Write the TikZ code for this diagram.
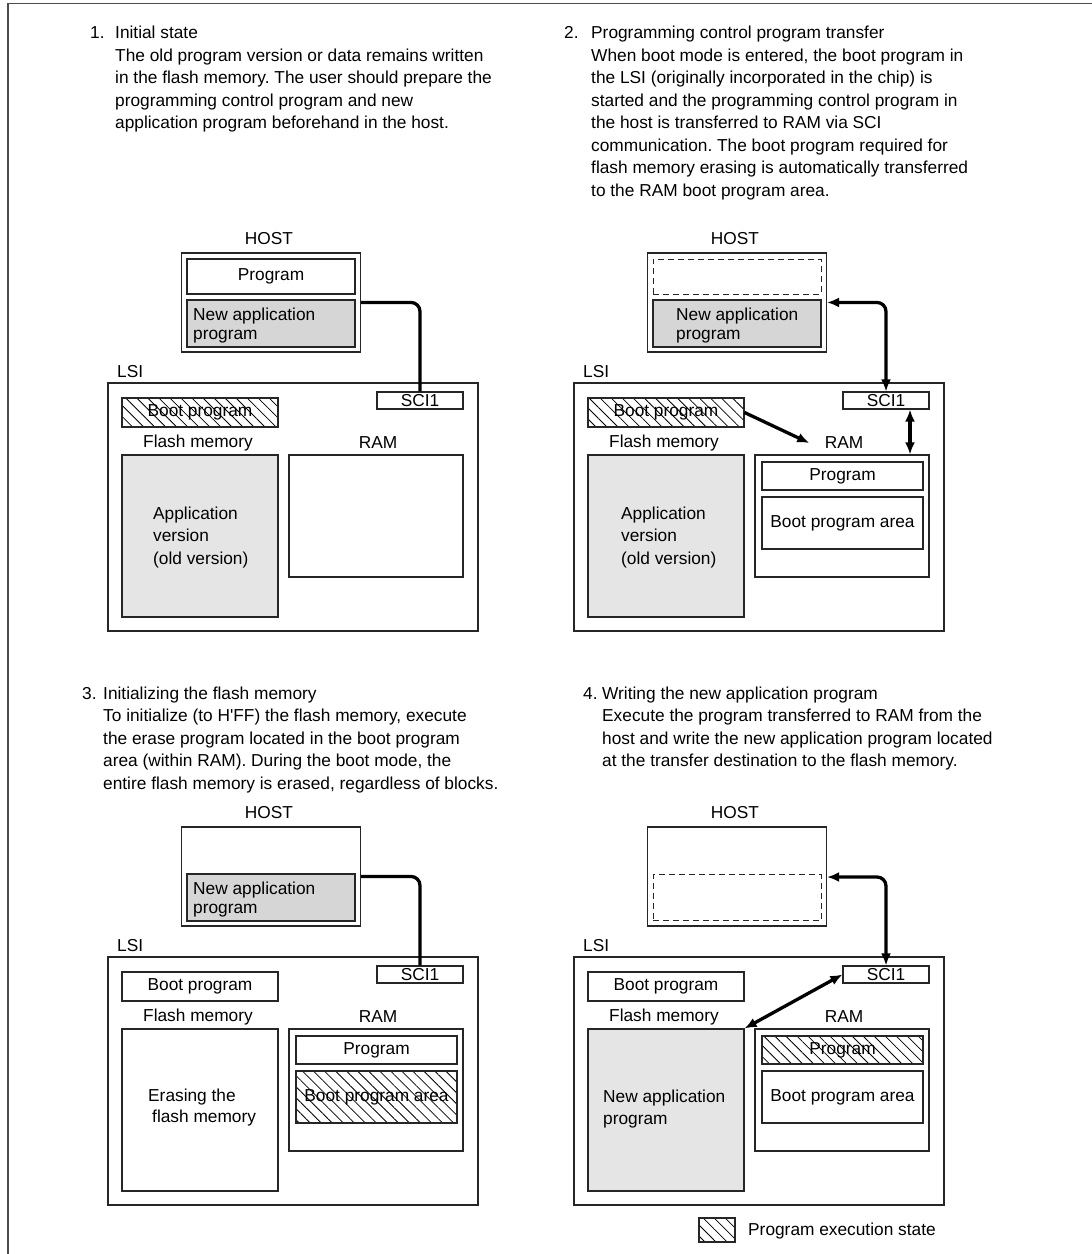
\documentclass[tikz,border=0pt]{standalone}
\usepackage{fontspec}
\setmainfont{Liberation Sans}
\frenchspacing
\usetikzlibrary{positioning, arrows.meta, calc, patterns.meta}
\tikzset{
    kasten/.style  = {draw=black!85, line width=1.1pt, inner sep=0pt},
    grau/.style    = {kasten, fill=black!16},
    alt/.style     = {kasten, fill=black!10},
    lauf/.style    = {kasten, pattern={Lines[angle=-45, distance=7.8pt, line width=0.8pt]}},
    leer/.style    = {draw=black!85, line width=1pt, dash pattern=on 6pt off 4pt, inner sep=0pt},
    schrift/.style = {inner sep=0pt, align=left, anchor=base west},
    eng/.style     = {schrift, font=\fontsize{17.3}{18.5}\selectfont},
    link/.style    = {line width=3.3pt, rounded corners=9pt},
    pfeil/.style   = {link, -{Latex[length=12pt, width=10pt]}},
    beide/.style   = {link, {Latex[length=12pt, width=10pt]}-{Latex[length=12pt, width=10pt]}},
    rahmen/.style  = {draw=black!70, line width=1.5pt}
}

\begin{document}
\begin{tikzpicture}[x=1pt, y=-1pt, font=\fontsize{17.3}{22.5}\selectfont]
    \useasboundingbox (0,0) rectangle (1092,1254);

    % Rahmen
    \draw[rahmen] (1092,3.5) -- (8,3.5) -- (8,1254);

    % Beschreibungen (base = Grundlinie der letzten Zeile)
    \node[schrift] (nr1) at (90,38.5) {1.};
    \node[schrift] (txt1) at (115,128.5) {Initial state\\
        The old program version or data remains written\\
        in the flash memory. The user should prepare the\\
        programming control program and new\\
        application program beforehand in the host.};
    \node[schrift] (nr2) at (564,38.5) {2.};
    \node[schrift] (txt2) at (591,196) {Programming control program transfer\\
        When boot mode is entered, the boot program in\\
        the LSI (originally incorporated in the chip) is\\
        started and the programming control program in\\
        the host is transferred to RAM via SCI\\
        communication. The boot program required for\\
        flash memory erasing is automatically transferred\\
        to the RAM boot program area.};
    \node[schrift] (nr3) at (82,699) {3.};
    \node[schrift] (txt3) at (103,789) {Initializing the flash memory\\
        To initialize (to H\textquotesingle FF) the flash memory, execute\\
        the erase program located in the boot program\\
        area (within RAM). During the boot mode, the\\
        entire flash memory is erased, regardless of blocks.};
    \node[schrift] (nr4) at (583,699) {4.};
    \node[schrift] (txt4) at (602,766.5) {Writing the new application program\\
        Execute the program transferred to RAM from the\\
        host and write the new application program located\\
        at the transfer destination to the flash memory.};

    % gemeinsame Teile der vier Bilder
    \foreach \i/\dx/\dy/\bstil/\fstil in {1/0/0/lauf/alt, 2/466/0/lauf/alt,
                                          3/0/574/kasten/kasten, 4/466/574/kasten/alt} {
        \begin{scope}[shift={(\dx,\dy)}]
            \node (hostlab\i) at (269,239) {HOST};
            \node[kasten, minimum width=179, minimum height=99] (host\i) at (271,302.5) {};
            \node[anchor=west, inner sep=0pt] (lsilab\i) at (117,372) {LSI};
            \node[kasten, minimum width=370, minimum height=248] (lsi\i) at (293,507) {};
            \node[kasten, minimum width=86, minimum height=17] (sci\i) at (420,400.5) {SCI1};
            \node[\bstil, minimum width=156, minimum height=29] (boot\i) at (200,412.5) {Boot program};
            \node (flashlab\i) at (198,443) {Flash memory};
            \node[\fstil, minimum width=156, minimum height=162] (flash\i) at (200,536) {};
            \node (ramlab\i) at (378,443) {RAM};
            \node[kasten, minimum width=174, minimum height=122] (ram\i) at (376,516) {};
        \end{scope}
    }

    % 1. Ausgangszustand
    \node[kasten, minimum width=168, minimum height=35] (hprog1) at (271,276.5) {Program};
    \node[grau, minimum width=168, minimum height=47] (hneu1) at (271,323.5) {};
    \node[eng] (hneutxt1) at (193,339) {New application\\program};
    \node[schrift] (alttxt1) at (153,564) {Application\\version\\(old version)};
    \draw[link] ($(host1.east |- hneu1.north)+(0,3)$) -| (sci1.north);

    % 2. Transfer
    \begin{scope}[shift={(466,0)}]
        \node[leer, minimum width=168, minimum height=35] (hprog2) at (271,276.5) {};
        \node[grau, minimum width=168, minimum height=47] (hneu2) at (271,323.5) {};
        \node[eng] (hneutxt2) at (210,339) {New application\\program};
        \node[schrift] (alttxt2) at (155,564) {Application\\version\\(old version)};
        \node[kasten, minimum width=161, minimum height=28] (rprog2) at (376.5,476) {Program};
        \node[kasten, minimum width=161, minimum height=52] (rboot2) at (376.5,523) {Boot program area};
    \end{scope}
    \draw[beide] (sci2.north) |- ($(host2.east |- hneu2.north)+(0,3)$);
    \draw[pfeil] (boot2.east) -- ([xshift=-12pt]ramlab2.west);
    \draw[beide] ($(sci2.south)+(24,0)$) -- ($(sci2.south |- ram2.north)+(24,0)$);

    % 3. Loeschen
    \begin{scope}[shift={(0,574)}]
        \node[grau, minimum width=168, minimum height=47] (hneu3) at (271,323.5) {};
        \node[eng] (hneutxt3) at (193,339) {New application\\program};
        \node[schrift, font=\fontsize{17.3}{21}\selectfont] (loesch3) at (148,548) {Erasing the\\\hspace*{4pt}flash memory};
        \node[kasten, minimum width=161, minimum height=28] (rprog3) at (376.5,476) {Program};
        \node[lauf, minimum width=161, minimum height=52] (rboot3) at (376.5,523) {Boot program area};
    \end{scope}
    \draw[link] ($(host3.east |- hneu3.north)+(0,3)$) -| (sci3.north);

    % 4. Schreiben
    \begin{scope}[shift={(466,574)}]
        \node[leer, minimum width=168, minimum height=46] (hneu4) at (271,323.5) {};
        \node[schrift, font=\fontsize{17.3}{22}\selectfont] (neutxt4) at (137,550) {New application\\program};
        \node[lauf, minimum width=161, minimum height=28] (rprog4) at (376.5,476) {Program};
        \node[kasten, minimum width=161, minimum height=52] (rboot4) at (376.5,523) {Boot program area};
    \end{scope}
    \draw[beide] (sci4.north) |- ($(host4.east |- hneu4.north)+(0,3)$);
    \draw[beide] (sci4.west) -- (flash4.north east);

    % Legende
    \node[lauf, minimum width=36, minimum height=24] (leg) at (717,1230) {};
    \node[anchor=west, inner sep=0pt] (legtxt) at (748,1231) {Program execution state};
\end{tikzpicture}
\end{document}
